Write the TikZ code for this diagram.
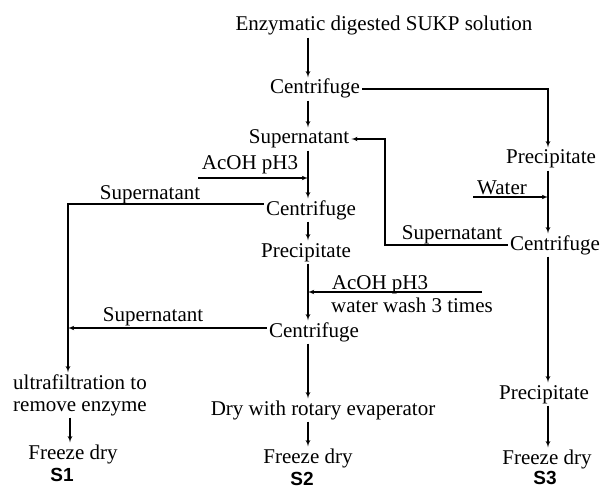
\documentclass[tikz,border=0pt]{standalone}
\usepackage{fontspec}
\setmainfont{Liberation Serif}
\newfontfamily\sampfont{Liberation Sans}
\usepackage{tikz}
\usetikzlibrary{arrows}

\begin{document}
\begin{tikzpicture}[x=1pt,y=-1pt]
	
	\tikzset{stage/.style = {anchor=base,inner sep=2pt,text height=14.5pt,text depth=4.5pt,font=\fontsize{21}{23}\selectfont}}
	\tikzset{sample/.style = {anchor=base,inner sep=0pt,font=\sampfont\bfseries\fontsize{19}{21}\selectfont}}
	\tikzset{edge/.style = {->,> = latex',line width=1.1pt}}
	
	\useasboundingbox (0,0) rectangle (602,489);
	
	\node[stage] (top) at (384,31) {Enzymatic digested SUKP solution};
	\node[stage] (c1) at (315,94) {Centrifuge};
	\node[stage] (sup1) at (299,144) {Supernatant};
	\node[stage] (c2) at (311,215) {Centrifuge};
	\node[stage] (p2) at (306,257) {Precipitate};
	\node[stage] (c3) at (314,337) {Centrifuge};
	\node[stage] (dry) at (323,415) {Dry with rotary evaperator};
	\node[stage] (fd2) at (308,463) {Freeze dry};
	\node[sample] (s2) at (302,485) {S2};
	
	\node[stage] (uf1) at (80,389) {ultrafiltration to};
	\node[stage] (uf2) at (80,411) {remove enzyme};
	\node[stage] (fd1) at (73,459) {Freeze dry};
	\node[sample] (s1) at (62,481) {S1};
	
	\node[stage] (p1) at (551,164) {Precipitate};
	\node[stage] (c4) at (555,250) {Centrifuge};
	\node[stage] (p3) at (544,399) {Precipitate};
	\node[stage] (fd3) at (547,464) {Freeze dry};
	\node[sample] (s3) at (545,484) {S3};
	
	\node[stage] (acid1) at (250,170) {AcOH pH3};
	\node[stage] (supl1) at (150,200) {Supernatant};
	\node[stage] (water) at (502,194) {Water};
	\node[stage] (supr) at (452,239) {Supernatant};
	\node[stage] (acid2) at (380,289) {AcOH pH3};
	\node[stage] (wash) at (412,312) {water wash 3 times};
	\node[stage] (supl2) at (153,321) {Supernatant};
	
	\coordinate (mid) at (308,0);
	\coordinate (colL) at (68,0);
	\coordinate (colR) at (548,0);
	\coordinate (a1) at (198,178);
	\coordinate (a2) at (482,292);
	\coordinate (w1) at (473,197);
	\coordinate (j1) at (68,204);
	\coordinate (j2) at (68,328);
	\coordinate (rt) at (385,245);
	
	\draw[edge] (mid |- top.south) -- (mid |- c1.north);
	\draw[edge] (mid |- c1.south) -- (mid |- sup1.north);
	\draw[edge] (c1.east) -| (p1.north -| colR);
	\draw[edge] (mid |- sup1.south) -- (mid |- c2.north);
	\draw[edge] (a1) -- (mid |- a1);
	\draw[edge] (c2.west |- j1) -- (j1) -- (colL |- uf1.north);
	\draw[edge] (mid |- c2.south) -- (mid |- p2.north);
	\draw[edge] (mid |- p2.south) -- (mid |- c3.north);
	\draw[edge] (a2) -- (mid |- a2);
	\draw[edge] (c3.west |- j2) -- (j2);
	\draw[edge] (mid |- c3.south) -- (mid |- dry.north);
	\draw[edge] (mid |- dry.south) -- (mid |- fd2.north);
	\draw[edge] (70,0 |- uf2.south) -- (70,0 |- fd1.north);
	\draw[edge] (colR |- p1.south) -- (colR |- c4.north);
	\draw[edge] (w1) -- (colR |- w1);
	\draw[edge] (c4.west |- rt) -- (rt) |- (sup1.east);
	\draw[edge] (colR |- c4.south) -- (colR |- p3.north);
	\draw[edge] (colR |- p3.south) -- (colR |- fd3.north);
	\end{tikzpicture}
\end{document}
